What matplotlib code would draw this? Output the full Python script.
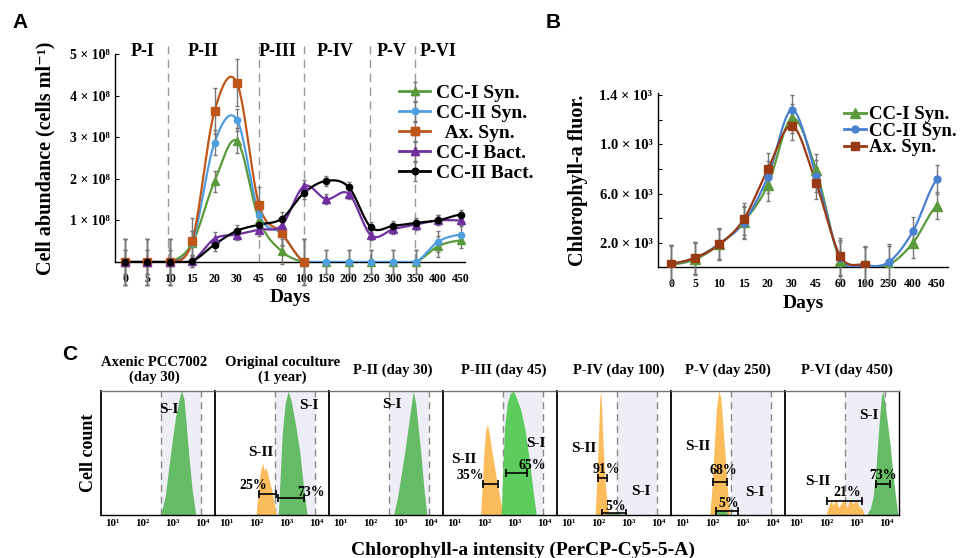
import numpy as np
import matplotlib.pyplot as plt
from matplotlib.lines import Line2D
from matplotlib.legend_handler import HandlerTuple

plt.rcParams['font.family'] = ['Liberation Serif', 'DejaVu Serif']
plt.rcParams['font.weight'] = 'bold'
plt.rcParams['axes.linewidth'] = 1.0

# ---------------- panel A data (cells/ml, units of 1e8) ----------------
days_a = ['0', '5', '10', '15', '20', '30', '45', '60', '100', '150', '200',
          '250', '300', '350', '400', '450']
cc1_syn = [0, 0, 0, 0.45, 1.94, 2.91, 1.0, 0.26, 0, 0, 0, 0, 0, 0, 0.38, 0.52]
cc1_syn_err = [0.56, 0.56, 0.56, 0.3, 0.25, 0.3, 0.3, 0.3, 0.56, 0.28, 0.28, 0.28, 0.28, 0.28, 0.25, 0.18]
cc2_syn = [0, 0, 0, 0.45, 2.87, 3.42, 1.14, 0.68, 0, 0, 0, 0, 0, 0, 0.49, 0.66]
cc2_syn_err = [0.56, 0.56, 0.56, 0.3, 0.3, 0.26, 0.3, 0.3, 0.56, 0.28, 0.28, 0.28, 0.28, 0.28, 0.25, 0.2]
ax_syn = [0, 0, 0, 0.5, 3.63, 4.31, 1.36, 0.7, 0]
ax_syn_err = [0.56, 0.56, 0.56, 0.56, 0.56, 0.56, 0.45, 0.3, 0.56]
cc1_bact = [0, 0, 0, 0.02, 0.56, 0.66, 0.78, 0.88, 1.82, 1.51, 1.64, 0.64, 0.79, 0.9, 1.0, 1.0]
cc1_bact_err = [0.3, 0.3, 0.3, 0.15, 0.15, 0.12, 0.15, 0.15, 0.15, 0.12, 0.12, 0.12, 0.12, 0.12, 0.12, 0.12]
cc2_bact = [0, 0, 0, 0.02, 0.42, 0.75, 0.9, 1.04, 1.66, 1.95, 1.8, 0.83, 0.87, 0.94, 1.0, 1.14]
cc2_bact_err = [0.3, 0.3, 0.3, 0.15, 0.15, 0.15, 0.15, 0.15, 0.15, 0.12, 0.12, 0.12, 0.12, 0.12, 0.12, 0.12]
phases = ['P-I', 'P-II', 'P-III', 'P-IV', 'P-V', 'P-VI']
phase_label_pos = [0.8, 3.5, 6.8, 9.4, 11.9, 14.0]
phase_bounds = [1.9, 6.0, 8.0, 10.95, 12.95]

# ---------------- panel B data (chlorophyll-a fluorescence) ----------------
days_b = ['0', '5', '10', '15', '20', '30', '45', '60', '100', '250', '400', '450']
chl_cc1 = [22, 65, 187, 370, 668, 1212, 790, 52, 16, 22, 198, 500]
chl_cc1_err = [150, 130, 125, 130, 130, 120, 130, 150, 150, 150, 120, 110]
chl_cc2 = [30, 76, 193, 364, 736, 1280, 745, 76, 16, 43, 293, 715]
chl_cc2_err = [150, 130, 125, 130, 130, 120, 130, 150, 150, 150, 120, 120]
chl_ax = [30, 79, 187, 389, 796, 1152, 682, 90, 22]
chl_ax_err = [150, 130, 125, 130, 130, 120, 130, 150, 150]

# ---------------- panel C data (log10 intensity, relative count) ----------------
c_titles = ['Axenic PCC7002\n(day 30)', 'Original coculture\n(1 year)', 'P-II (day 30)',
            'P-III (day 45)', 'P-IV (day 100)', 'P-V (day 250)', 'P-VI (day 450)']
c_title_x = [0.47, 0.59, 0.56, 0.53, 0.54, 0.50, 0.54]
p1_green_x = [2.60, 2.75, 2.93, 3.10, 3.25, 3.30, 3.38, 3.53, 3.65, 3.77]
p1_green_h = [0, 0.15, 0.5, 0.8, 0.97, 1.0, 0.93, 0.5, 0.2, 0]
p2_green_x = [2.72, 2.78, 2.85, 2.95, 3.05, 3.15, 3.30, 3.44, 3.55, 3.68]
p2_green_h = [0, 0.3, 0.65, 0.9, 1.0, 0.92, 0.72, 0.5, 0.25, 0]
p2_orange_x = [1.98, 2.05, 2.12, 2.20, 2.25, 2.32, 2.40, 2.50, 2.58, 2.65]
p2_orange_h = [0, 0.2, 0.35, 0.42, 0.36, 0.38, 0.3, 0.2, 0.1, 0]
p3_green_x = [2.76, 2.90, 3.13, 3.30, 3.42, 3.50, 3.67, 3.78, 3.87]
p3_green_h = [0, 0.15, 0.5, 0.8, 1.0, 0.9, 0.5, 0.2, 0]
p4_orange_x = [1.86, 1.92, 1.97, 2.03, 2.09, 2.15, 2.25, 2.40, 2.52, 2.62]
p4_orange_h = [0, 0.25, 0.5, 0.68, 0.73, 0.66, 0.5, 0.28, 0.12, 0]
p4_green_x = [2.55, 2.60, 2.66, 2.75, 2.85, 2.96, 3.05, 3.20, 3.35, 3.50, 3.62, 3.72]
p4_green_h = [0, 0.35, 0.7, 0.9, 0.98, 1.0, 0.95, 0.85, 0.68, 0.42, 0.18, 0]
p5_orange_x = [1.88, 1.95, 2.00, 2.04, 2.07, 2.11, 2.16, 2.22, 2.30, 2.35]
p5_orange_h = [0, 0.35, 0.7, 0.95, 1.0, 0.8, 0.5, 0.25, 0.06, 0]
p5_green_x = [2.15, 2.3, 2.6, 2.85]
p5_green_h = [0, 0.015, 0.015, 0]
p6_orange_x = [1.90, 1.97, 2.05, 2.12, 2.20, 2.27, 2.35, 2.45, 2.52, 2.58]
p6_orange_h = [0, 0.2, 0.55, 0.85, 1.0, 0.95, 0.7, 0.35, 0.12, 0]
p6_green_x = [2.05, 2.12, 2.4, 2.55]
p6_green_h = [0, 0.04, 0.04, 0]
p7_orange_x = [1.98, 2.05, 2.15, 2.22, 2.30, 2.40, 2.50, 2.60, 2.68, 2.78, 2.88, 2.98, 3.08, 3.18, 3.25]
p7_orange_h = [0, 0.06, 0.12, 0.08, 0.13, 0.06, 0.1, 0.12, 0.06, 0.13, 0.09, 0.12, 0.07, 0.05, 0]
p7_green_x = [3.33, 3.45, 3.55, 3.65, 3.75, 3.82, 3.87, 3.93, 4.02, 4.12, 4.22, 4.32, 4.37]
p7_green_h = [0, 0.05, 0.15, 0.4, 0.75, 0.95, 1.0, 0.92, 0.75, 0.55, 0.3, 0.1, 0]

green_c = '#66bb66'
green_c2 = '#5ccc5c'
orange_c = '#fbbd5c'


def smooth(y, n=24):
    # Catmull-Rom curve through the points (index positions)
    y = np.asarray(y, float)
    p = np.concatenate([[y[0]], y, [y[-1]]])
    xs, ys = [], []
    t = np.linspace(0, 1, n, endpoint=False)
    for i in range(len(y) - 1):
        p0, p1, p2, p3 = p[i], p[i + 1], p[i + 2], p[i + 3]
        ys.append(0.5 * (2 * p1 + (-p0 + p2) * t + (2 * p0 - 5 * p1 + 4 * p2 - p3) * t ** 2
                         + (-p0 + 3 * p1 - 3 * p2 + p3) * t ** 3))
        xs.append(i + t)
    xs.append([len(y) - 1])
    ys.append([y[-1]])
    return np.concatenate(xs), np.maximum(np.concatenate(ys), 0)


fig = plt.figure(figsize=(9.67, 5.58), dpi=100)

# =============== Panel A ===============
axA = fig.add_axes([115 / 967, 1 - 262 / 558, 350 / 967, 208 / 558])
seriesA = [
    (cc1_syn, cc1_syn_err, '#5b9a3c', '^', 6, 'CC-I Syn.'),
    (cc2_syn, cc2_syn_err, '#4f9fe0', 'o', 4.5, 'CC-II Syn.'),
    (ax_syn, ax_syn_err, '#c0561a', 's', 5.5, '  Ax. Syn.'),
    (cc1_bact, cc1_bact_err, '#7030a0', '^', 6, 'CC-I Bact.'),
    (cc2_bact, cc2_bact_err, '#000000', 'o', 4.5, 'CC-II Bact.'),
]
handlesA, labelsA = [], []
for vals, err, col, mk, ms, lab in seriesA:
    v = np.array(vals) * 1e8
    e = np.array(err) * 1e8
    xs, ys = smooth(v)
    axA.plot(xs, ys, color=col, lw=1.6, zorder=3)
    eb = axA.errorbar(np.arange(len(v)), v, yerr=e, fmt=mk, color=col, ms=ms,
                      ecolor='#777777', elinewidth=1.0, capsize=1.5, zorder=4)
    for art in eb[1] + eb[2]:
        art.set_clip_on(False)
    eb[0].set_clip_on(False)
    proxy = Line2D([], [], color=col, lw=2, marker=mk, ms=ms)
    handlesA.append((eb, proxy))
    labelsA.append(lab)

for b in phase_bounds:
    axA.axvline(b, ymin=0, ymax=1.04, color='#999999', lw=1.0, ls=(0, (6, 4)), clip_on=False, zorder=1)
for lab, pos in zip(phases, phase_label_pos):
    axA.text(pos, 5.05e8, lab, ha='center', va='center', fontsize=13, fontweight='bold')

axA.set_xlim(-0.45, 15.2)
axA.set_ylim(0, 5e8)
axA.set_xticks(np.arange(len(days_a)))
axA.set_xticklabels(days_a, fontsize=8.5, fontweight='bold')
axA.tick_params(axis='x', length=0, pad=8)
axA.set_yticks([1e8, 2e8, 3e8, 4e8, 5e8])
axA.set_yticklabels(['1 × 10⁸', '2 × 10⁸', '3 × 10⁸', '4 × 10⁸', '5 × 10⁸'], fontsize=10, fontweight='bold')
axA.tick_params(axis='y', length=3, direction='in', pad=4)
for s in ['top', 'right']:
    axA.spines[s].set_visible(False)
axA.set_xlabel('Days', fontsize=14, fontweight='bold', labelpad=3)
axA.set_ylabel('Cell abundance (cells ml⁻¹)', fontsize=14.5, fontweight='bold', labelpad=10)
axA.legend(handlesA, labelsA, loc='upper left', bbox_to_anchor=(0.79, 0.89), frameon=False,
           fontsize=14, handlelength=1.6, handletextpad=0.3, labelspacing=0.12,
           borderaxespad=0, handler_map={tuple: HandlerTuple(ndivide=1)})

# =============== Panel B ===============
axB = fig.add_axes([658 / 967, 1 - 267.3 / 558, 290 / 967, 174.6 / 558])
seriesB = [
    (chl_cc1, chl_cc1_err, '#5b9a3c', '^', 6.5, 'CC-I Syn.'),
    (chl_cc2, chl_cc2_err, '#4a80d0', 'o', 5, 'CC-II Syn.'),
    (chl_ax, chl_ax_err, '#9a3a14', 's', 6, 'Ax. Syn.'),
]
handlesB = []
for vals, err, col, mk, ms, lab in seriesB:
    v = np.array(vals, float)
    xs, ys = smooth(v)
    axB.plot(xs, ys, color=col, lw=1.6, zorder=3)
    eb = axB.errorbar(np.arange(len(v)), v, yerr=err, fmt=mk, color=col, ms=ms,
                      ecolor='#777777', elinewidth=1.0, capsize=1.5, zorder=4)
    for art in eb[1] + eb[2]:
        art.set_clip_on(False)
    handlesB.append(Line2D([], [], color=col, lw=2, marker=mk, ms=ms, label=lab))

axB.set_xlim(-0.54, 11.45)
axB.set_ylim(0, 1420)
axB.set_xticks(np.arange(len(days_b)))
axB.set_xticklabels(days_b, fontsize=8.5, fontweight='bold')
axB.tick_params(axis='x', length=0, pad=8)
axB.set_yticks([200, 400, 600, 800, 1000, 1200, 1400])
axB.set_yticklabels(['2.0 × 10³', '', '6.0 × 10³', '', '1.0 × 10³', '', '1.4 × 10³'],
                    fontsize=10.5, fontweight='bold')
axB.tick_params(axis='y', length=3, direction='in', pad=4)
for s in ['top', 'right']:
    axB.spines[s].set_visible(False)
axB.set_xlabel('Days', fontsize=14, fontweight='bold', labelpad=3)
axB.set_ylabel('Chlorophyll-a fluor.', fontsize=14.5, fontweight='bold', labelpad=8)
axB.legend(handles=handlesB, loc='upper left', bbox_to_anchor=(0.615, 0.965), frameon=False,
           fontsize=13.5, handlelength=1.2, handletextpad=0.12, labelspacing=-0.04, borderaxespad=0)

# =============== Panel C ===============
peaks = [
    [(p1_green_x, p1_green_h, green_c)],
    [(p2_orange_x, p2_orange_h, orange_c), (p2_green_x, p2_green_h, green_c)],
    [(p3_green_x, p3_green_h, green_c)],
    [(p4_orange_x, p4_orange_h, orange_c), (p4_green_x, p4_green_h, green_c2)],
    [(p5_orange_x, p5_orange_h, orange_c), (p5_green_x, p5_green_h, green_c)],
    [(p6_orange_x, p6_orange_h, orange_c), (p6_green_x, p6_green_h, green_c)],
    [(p7_orange_x, p7_orange_h, orange_c), (p7_green_x, p7_green_h, green_c)],
]
# gate bars: (log x start, log x end, height, label, label log x, label height)
gates = [
    [],
    [(2.08, 2.64, 0.17, '25%', 1.89, 0.24), (2.72, 3.58, 0.14, '73%', 3.82, 0.18)],
    [],
    [(1.93, 2.43, 0.25, '35%', 1.51, 0.32), (2.71, 3.40, 0.34, '65%', 3.57, 0.40)],
    [(1.97, 2.28, 0.30, '91%', 2.24, 0.37), (2.11, 2.92, 0.02, '5%', 2.56, 0.07)],
    [(2.02, 2.47, 0.27, '68%', 2.35, 0.36), (2.10, 2.85, 0.035, '5%', 2.55, 0.095)],
    [(2.01, 3.17, 0.115, '21%', 2.68, 0.18), (3.64, 4.12, 0.25, '73%', 3.87, 0.32)],
]
# S-I / S-II labels: (text, log x, height)
pop_labels = [
    [('S-I', 2.88, 0.85)],
    [('S-II', 2.14, 0.5), ('S-I', 3.75, 0.88)],
    [('S-I', 2.71, 0.89)],
    [('S-II', 1.29, 0.45), ('S-I', 3.71, 0.58)],
    [('S-II', 1.5, 0.54), ('S-I', 3.4, 0.19)],
    [('S-II', 1.5, 0.55), ('S-I', 3.41, 0.18)],
    [('S-II', 1.7, 0.27), ('S-I', 3.39, 0.80)],
]

c_left = 101
c_w = 114
for i in range(7):
    ax = fig.add_axes([(c_left + i * c_w) / 967, 1 - 515 / 558, c_w / 967, 124 / 558])
    ax.set_xscale('log')
    ax.set_xlim(10 ** 0.61, 10 ** 4.41)
    ax.set_ylim(0, 1.0)
    ax.axvspan(10 ** 2.6, 10 ** 3.95, color='#eeeef6', zorder=0, lw=0)
    for g in (2.6, 3.95):
        ax.axvline(10 ** g, color='#888888', lw=1.0, ls=(0, (5, 3.5)), zorder=1)
    for px, ph, col in peaks[i]:
        ax.fill_between(10 ** np.array(px), ph, color=col, lw=0, zorder=2)
    for x0, x1, h, lab, lx, lh in gates[i]:
        ax.plot([10 ** x0, 10 ** x1], [h, h], color='black', lw=1.2, marker='|', ms=6, mew=1.2, zorder=4)
        ax.text(10 ** lx, lh, lab, ha='center', va='center', fontsize=10, fontweight='bold', zorder=5)
    for lab, lx, lh in pop_labels[i]:
        ax.text(10 ** lx, lh, lab, ha='center', va='center', fontsize=11, fontweight='bold', zorder=5)
    ax.set_xticks([10, 100, 1000, 10000])
    ax.set_xticklabels(['10¹', '10²', '10³', '10⁴'], fontsize=8, fontweight='bold')
    ax.minorticks_off()
    ax.tick_params(axis='x', length=0, pad=3)
    ax.set_yticks([])
    ax.spines['top'].set_color('#777777')
    ax.spines['left'].set_linewidth(1.3)
    if i < 6:
        ax.spines['right'].set_visible(False)
    ax.text(c_title_x[i], 1.0 + 21 / 124, c_titles[i], transform=ax.transAxes, ha='center', va='center',
            fontsize=10.5, fontweight='bold', linespacing=1.1)
    if i == 0:
        ax.set_ylabel('Cell count', fontsize=13, fontweight='bold', labelpad=3)

fig.text(523 / 967, 1 - 550 / 558, 'Chlorophyll-a intensity (PerCP-Cy5-5-A)', ha='center', va='center',
         fontsize=14, fontweight='bold')

# panel letters
for lab, x, y in [('A', 20, 22), ('B', 553, 22), ('C', 70, 354)]:
    fig.text(x / 967, 1 - y / 558, lab, ha='center', va='center', fontsize=15,
             fontweight='bold', family=['Liberation Sans', 'DejaVu Sans'])

fig.savefig('out.png', dpi=100)
